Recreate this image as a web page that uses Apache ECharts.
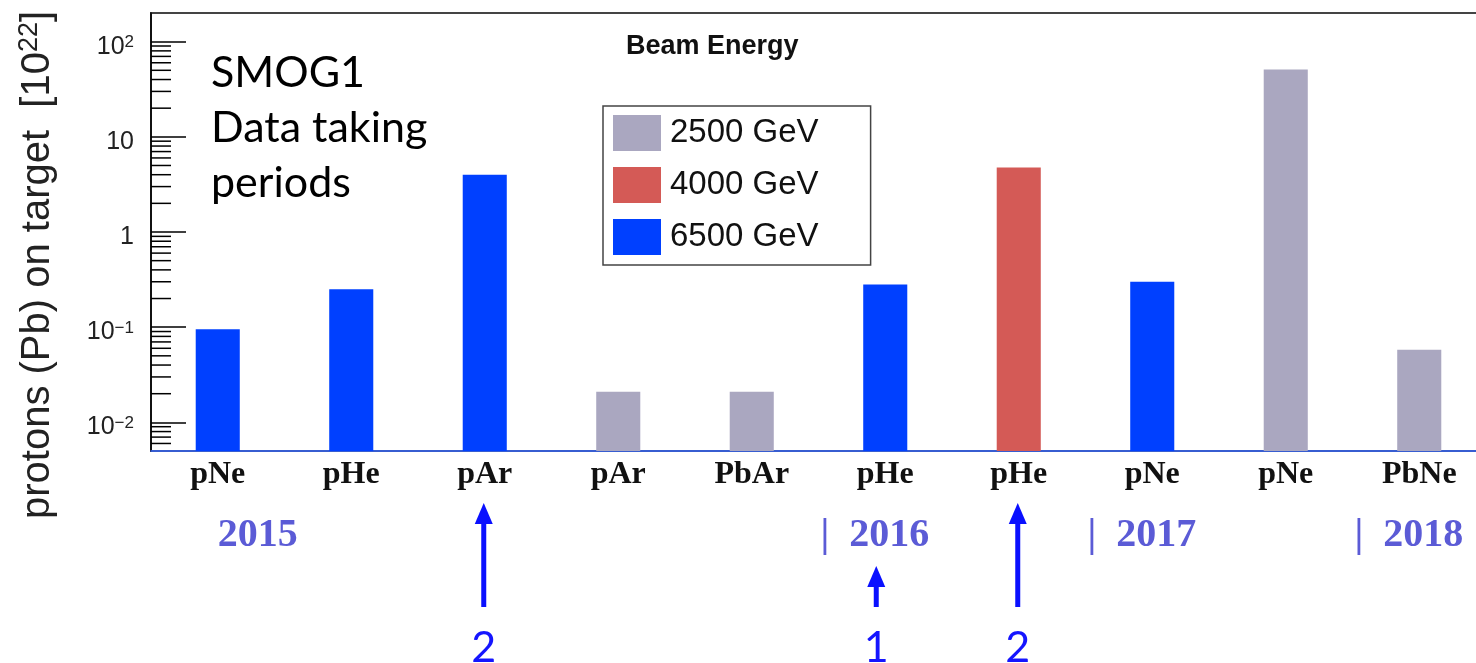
<!DOCTYPE html>
<html><head><meta charset="utf-8">
<script src="https://cdn.jsdelivr.net/npm/echarts@6/dist/echarts.min.js"></script>
<style>html,body{margin:0;padding:0;background:#fff}#c{width:1476px;height:663px}</style>
</head><body><div id="c"></div>
<script>
// ---- data ----
const categories = ['pNe','pHe','pAr','pAr','PbAr','pHe','pHe','pNe','pNe','PbNe'];
const energies = ['2500 GeV','4000 GeV','6500 GeV'];
const pot2500 = [null,null,null,0.021,0.021,null,null,null,51,0.058];
const pot4000 = [null,null,null,null,null,null,4.75,null,null,null];
const pot6500 = [0.095,0.25,4.0,null,null,0.28,null,0.30,null,null];
const yMin = 0.005, yMax = 200;
const minorTicks = [0.006,0.007,0.008,0.009,
  0.02,0.03,0.04,0.05,0.06,0.07,0.08,0.09,
  0.2,0.3,0.4,0.5,0.6,0.7,0.8,0.9,
  2,3,4,5,6,7,8,9,
  20,30,40,50,60,70,80,90];
const yearLabels = ['2015','|  2016','|  2017','|  2018'];
const yearStartCat = [0,5,7,9];
const arrowCats = [2,5,6];
const arrowLabels = ['2','1','2'];
const arrowLong = [true,false,true];
const notes = ['SMOG1','Data taking','periods'];

const colors = ['#aaa7c0','#d45a56','#0040ff'];
const chart = echarts.init(document.getElementById('c'), null, {renderer:'canvas'});

function expLabel(v){
  const e = Math.round(Math.log10(v));
  if (e === 0) return '1';
  if (e === 1) return '10';
  return '10{sup|' + (e < 0 ? '\u2212' + (-e) : e) + '}';
}

const gridL = 151, gridT = 13, gridW = 1335, gridH = 438;
chart.setOption({
  animation:false,
  backgroundColor:'#fff',
  title:{text:'Beam Energy', left:621, top:28,
    textStyle:{fontFamily:'Liberation Sans', fontWeight:'bold', fontSize:27, color:'#111'}},
  legend:{data:energies, orient:'vertical', left:603, top:106,
    itemWidth:48, itemHeight:36, itemGap:16, icon:'rect',
    padding:[9,52,10,10], borderColor:'#444', borderWidth:1.5,
    textStyle:{fontFamily:'Liberation Sans', fontSize:33, color:'#111', padding:[0,0,0,4]}},
  grid:{left:gridL, top:gridT, width:gridW, height:gridH, show:true, borderColor:'#444', borderWidth:2,
    containLabel:false, outerBoundsMode:'none'},
  xAxis:{type:'category', data:categories,
    axisLine:{lineStyle:{color:'#3366ff', width:1.5}},
    axisTick:{show:false},
    axisLabel:{interval:0, margin:8, fontFamily:'Liberation Serif', fontWeight:'bold', fontSize:32, color:'#111'}},
  yAxis:{type:'log', logBase:10, min:yMin, max:yMax, startValue:yMin,
    splitLine:{show:false},
    axisLine:{show:true, lineStyle:{color:'#000', width:1.5}},
    axisTick:{show:true, inside:true, length:35, lineStyle:{color:'#000', width:1.5}},
    axisLabel:{margin:17, showMinLabel:false, showMaxLabel:false, formatter:expLabel,
      fontFamily:'Liberation Sans', fontSize:25, color:'#222', padding:[10,0,0,0],
      rich:{sup:{fontFamily:'Liberation Sans', fontSize:17, color:'#222', verticalAlign:'top', lineHeight:17, padding:[0,0,10,0]}}},
    name:'protons (Pb) on target  [10{s|22}]', nameLocation:'middle', nameGap:92,
    nameTextStyle:{fontFamily:'Liberation Sans', fontSize:40, color:'#222', padding:[0,66,0,0],
      rich:{s:{fontFamily:'Liberation Sans', fontSize:27, color:'#222', padding:[0,0,16,0]}}}},
  series:[
    {name:energies[0], type:'bar', data:pot2500, barWidth:'33%', barGap:'-100%', itemStyle:{color:colors[0]}},
    {name:energies[1], type:'bar', data:pot4000, barWidth:'33%', barGap:'-100%', itemStyle:{color:colors[1]}},
    {name:energies[2], type:'bar', data:pot6500, barWidth:'33%', barGap:'-100%', itemStyle:{color:colors[2]}},
    {name:'minor', type:'custom', silent:true, z:5, data:minorTicks.map(v=>[0,v]),
      renderItem:function(params, api){
        const cs = params.coordSys;
        const y = api.coord([0, api.value(1)])[1];
        return {type:'line', shape:{x1:cs.x, y1:y, x2:cs.x+20, y2:y}, style:{stroke:'#000', lineWidth:1.5}};
      }}
  ]
});

// annotations placed from the axis scale
const graphics = [];
const catX = i => chart.convertToPixel({xAxisIndex:0}, i);
const band = catX(1) - catX(0);
yearLabels.forEach((t,i)=>{
  const c = yearStartCat[i];
  const x = i === 0 ? catX(c) : catX(c) - band/2 + 2;
  graphics.push({type:'text', left:x, top:516, style:{text:t, fontFamily:'Liberation Serif', fontWeight:'bold', fontSize:40, fill:'#5b5bd6'}});
});
arrowCats.forEach((c,i)=>{
  const x = catX(c) + (arrowLong[i] ? -1 : -9);
  const tip = arrowLong[i] ? 503 : 566, bottom = 607;
  graphics.push({type:'rect', shape:{x:x-2.5, y:tip+18, width:5, height:bottom-tip-18}, style:{fill:'#0a10ff'}});
  graphics.push({type:'polygon', shape:{points:[[x,tip],[x-9,tip+21],[x+9,tip+21]]}, style:{fill:'#0a10ff'}});
  graphics.push({type:'text', x:x, y:648, style:{text:arrowLabels[i], fontFamily:'Lato', fontSize:43, fill:'#1515ff', align:'center', verticalAlign:'middle'}});
});
notes.forEach((t,i)=>{
  graphics.push({type:'text', left:211, top:52 + i*55, style:{text:t, fontFamily:'Lato', fontSize:43, fill:'#000'}});
});
chart.setOption({graphic:graphics});
</script>
</body></html>
